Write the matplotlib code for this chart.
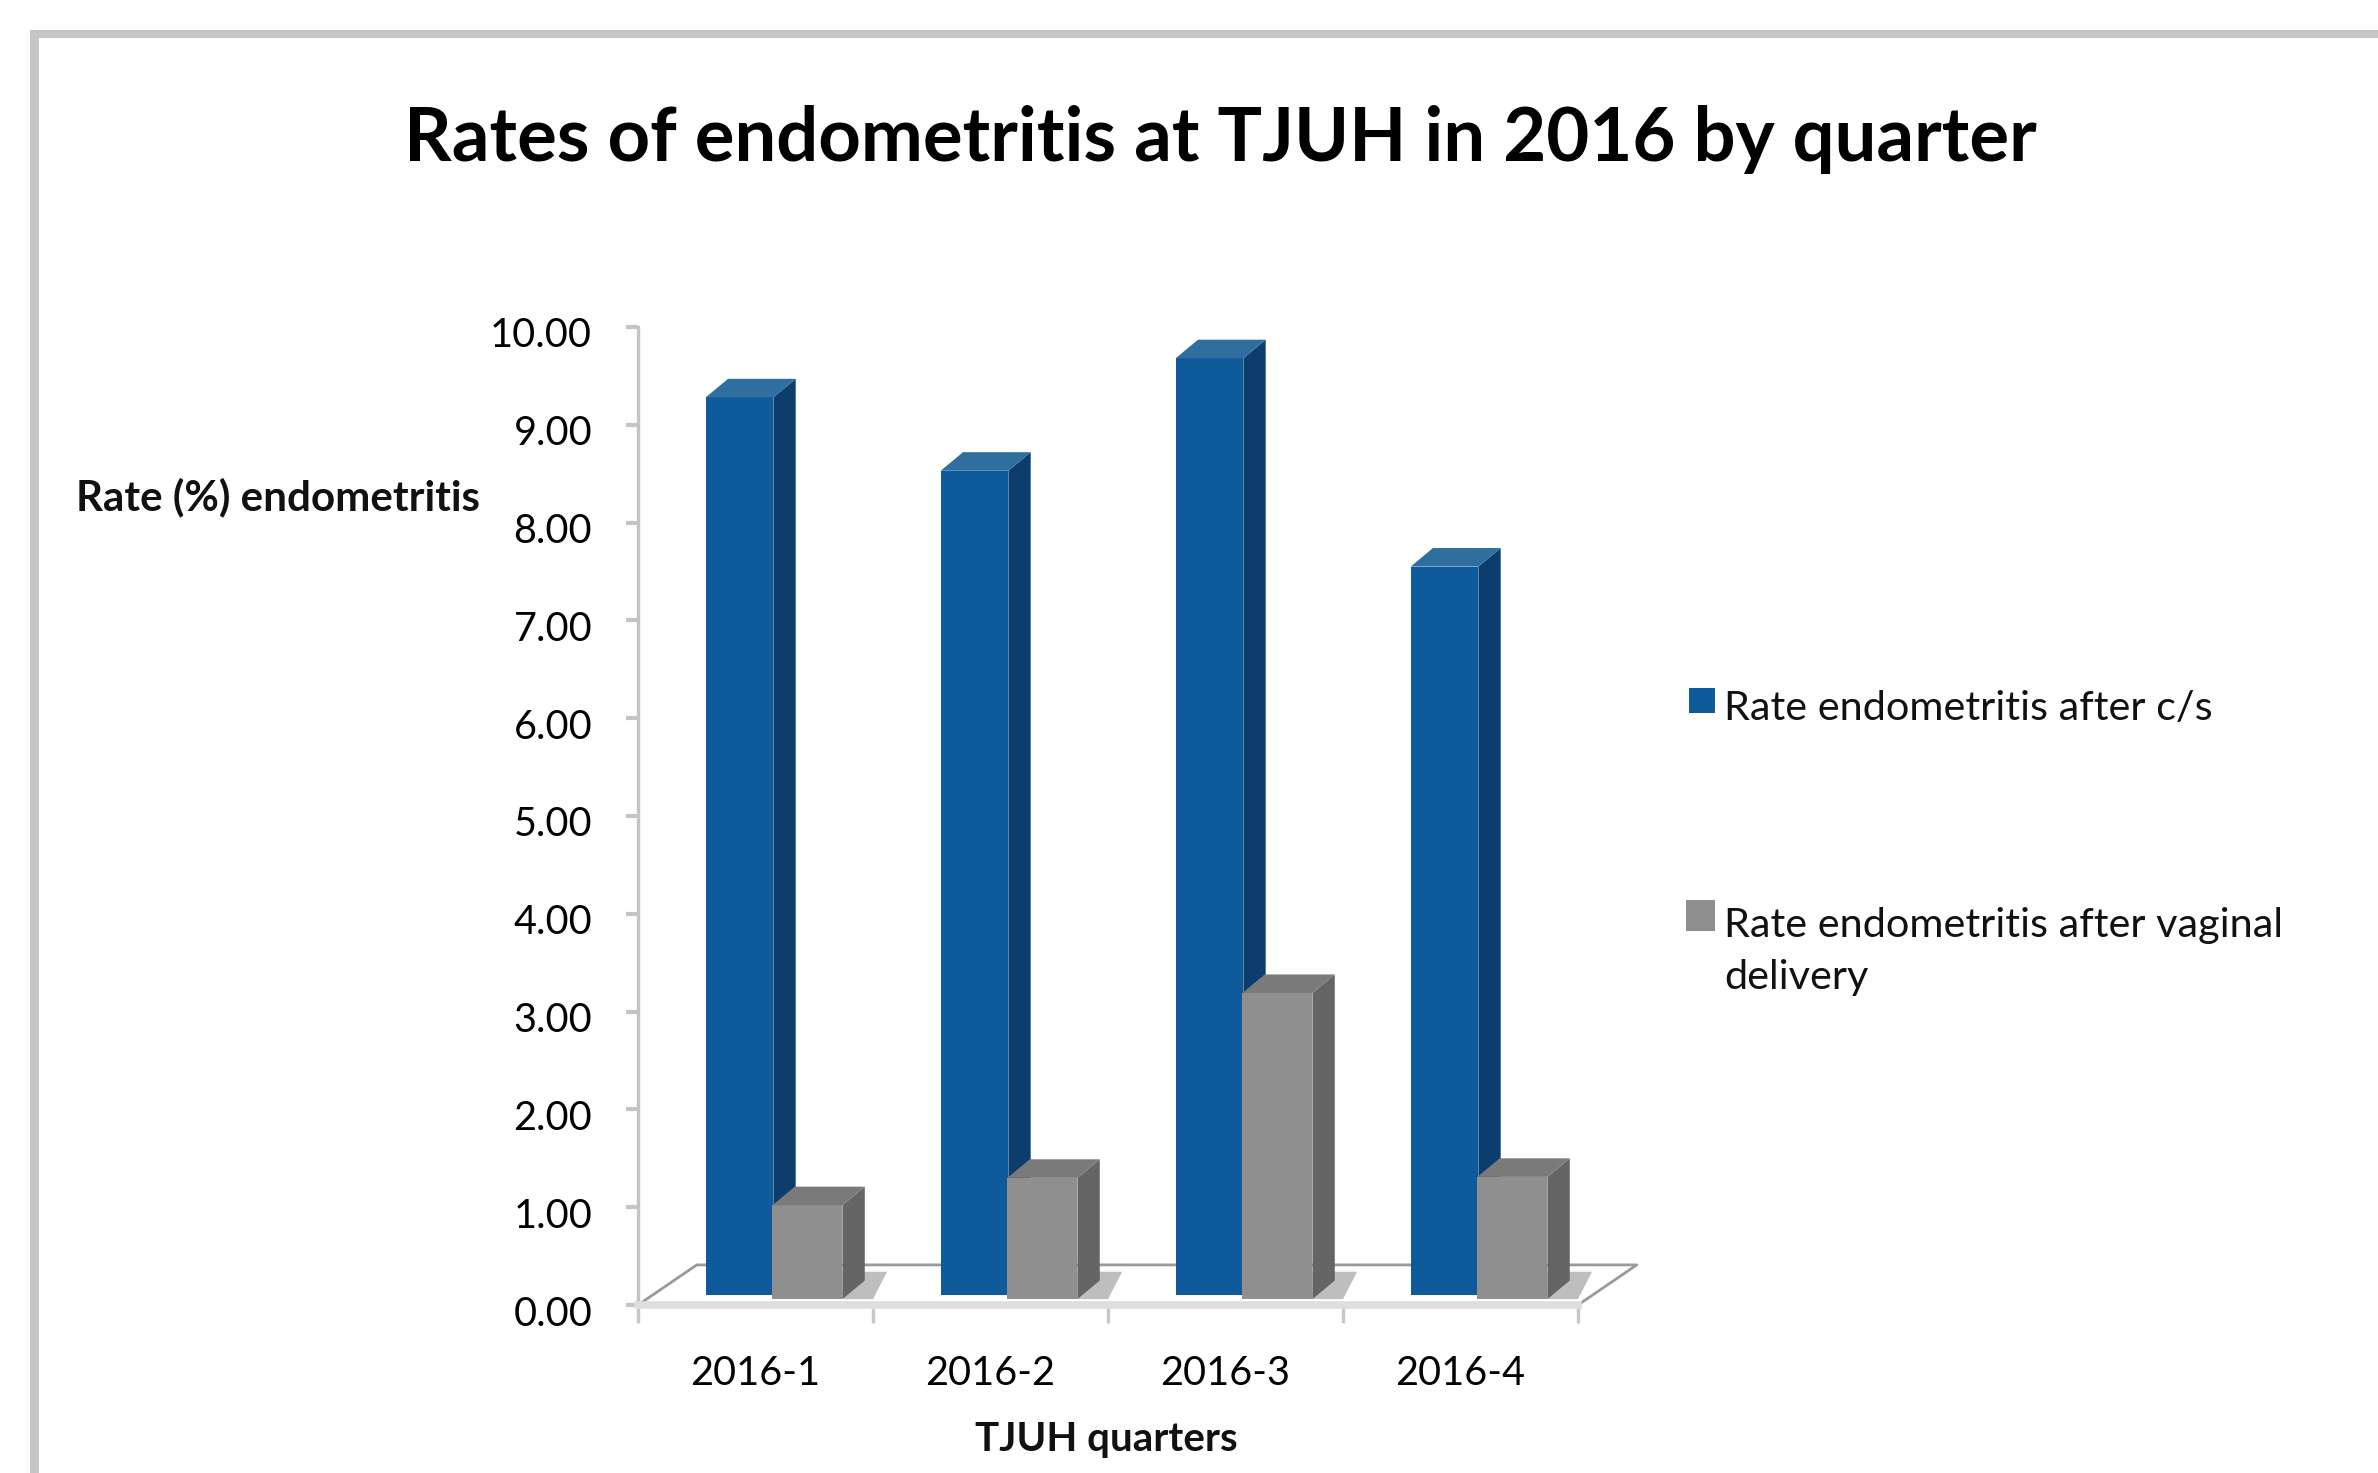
import matplotlib
matplotlib.use("Agg")
import matplotlib.pyplot as plt
from matplotlib.patches import Polygon, Rectangle

quarters = ["2016-1", "2016-2", "2016-3", "2016-4"]
rate_cs = [9.18, 8.43, 9.58, 7.45]
rate_vaginal = [0.96, 1.24, 3.13, 1.25]
series_names = ["Rate endometritis after c/s", "Rate endometritis after vaginal\ndelivery"]
y_ticks = [0, 1, 2, 3, 4, 5, 6, 7, 8, 9, 10]

W, H = 2378, 1473
plt.rcParams["font.family"] = ["Lato", "DejaVu Sans"]
fig = plt.figure(figsize=(W / 100, H / 100), dpi=100, facecolor="white")
fig.add_artist(Rectangle((30 / W, 0), 9 / W, 1 - 30 / H, transform=fig.transFigure, fc="#c6c6c6", ec="none"))
fig.add_artist(Rectangle((30 / W, 1 - 38 / H), 1 - 30 / W, 8 / H, transform=fig.transFigure, fc="#c6c6c6", ec="none"))

x0, x1, y0, y1 = 638, 1578, 1305, 327
ax = fig.add_axes([x0 / W, 1 - y0 / H, (x1 - x0) / W, (y0 - y1) / H])
ax.set_xlim(0, 4)
ax.set_ylim(0, 10)
ax.patch.set_alpha(0)

for s in ["top", "right"]:
    ax.spines[s].set_visible(False)
ax.spines["left"].set_color("#c4c4c4")
ax.spines["left"].set_linewidth(2.4)
ax.spines["bottom"].set_color("#dedede")
ax.spines["bottom"].set_linewidth(5.5)

ax.set_yticks(y_ticks)
ax.set_yticklabels([f"{v:.2f}" for v in y_ticks], fontsize=28.5, color="#000000", va="center")
ax.tick_params(axis="y", length=9, width=3, color="#c4c4c4", pad=24)
for lab in ax.get_yticklabels():
    lab.set_transform(lab.get_transform() + matplotlib.transforms.ScaledTranslation(0, -9 / 100, fig.dpi_scale_trans))

ax.set_xticks(range(5))
ax.set_xticklabels([""] * 5)
ax.tick_params(axis="x", which="major", length=13, width=2.4, color="#c8c8c8")
ax.set_xticks([i + 0.5 for i in range(4)], minor=True)
ax.set_xticklabels(quarters, minor=True, fontsize=28.5, color="#000000")
ax.tick_params(axis="x", which="minor", length=0, pad=36)

DX, DY = 0.095, 0.19
ZB, ZG = 0.10, 0.06
FX, FY = 0.25, 0.41
ax.add_patch(Polygon([(0, 0), (FX, FY), (4 + FX, FY), (4.0, 0)], closed=True, fc="white", ec="none", clip_on=False, zorder=0.5))
ax.plot([0, FX, 4 + FX, 4.0], [0, FY, FY, 0], color="#9a9a9a", lw=2, clip_on=False, zorder=1)


def bar3d(left, width, value, base, front, side, top, z):
    ax.bar(left, value, width=width, bottom=base, align="edge", color=front, zorder=z, clip_on=False)
    r = left + width
    t = base + value
    ax.add_patch(Polygon([(r, base), (r + DX, base + DY), (r + DX, t + DY), (r, t)], fc=side, ec="none", zorder=z, clip_on=False))
    ax.add_patch(Polygon([(left, t), (left + DX, t + DY), (r + DX, t + DY), (r, t)], fc=top, ec="none", zorder=z, clip_on=False))


for i, (b, g) in enumerate(zip(rate_cs, rate_vaginal)):
    z = 3 + i
    r = i + 0.87
    ax.add_patch(Polygon([(r, ZG), (r + 0.13, ZG), (r + 0.19, ZG + 0.28), (r, ZG + 0.28)], fc="#8a8a8a", alpha=0.55, ec="none", zorder=2, clip_on=False))
    bar3d(i + 0.288, 0.288, b, ZB, "#0f5a9b", "#0c3d6c", "#2f6f9f", z)
    bar3d(i + 0.572, 0.298, g, ZG, "#8f8f8f", "#656565", "#7a7a7a", z + 0.5)

fig.text(1220 / W, 1 - 139 / H, "Rates of endometritis at TJUH in 2016 by quarter", ha="center", va="center", fontsize=53.5, fontweight="bold", color="black")
fig.text(76 / W, 1 - 497 / H, "Rate (%) endometritis", ha="left", va="center", fontsize=30.3, fontweight="bold", color="#111111")
fig.text(1106 / W, 1 - 1439 / H, "TJUH quarters", ha="center", va="center", fontsize=29, fontweight="bold", color="#111111")

swatches = [(1689, 688, 26, 25, "#0f5a9b"), (1686, 900, 29, 31, "#8f8f8f")]
for (sx, sy, sw, sh, c) in swatches:
    fig.add_artist(Rectangle((sx / W, 1 - (sy + sh) / H), sw / W, sh / H, transform=fig.transFigure, fc=c, ec="none"))
fig.text(1724 / W, 1 - 708 / H, series_names[0], ha="left", va="center", fontsize=29.8, color="#111111")
fig.text(1724 / W, 1 - 951 / H, series_names[1], ha="left", va="center", fontsize=29.8, color="#111111", linespacing=1.5)

fig.savefig("out.png", dpi=100, facecolor="white")
